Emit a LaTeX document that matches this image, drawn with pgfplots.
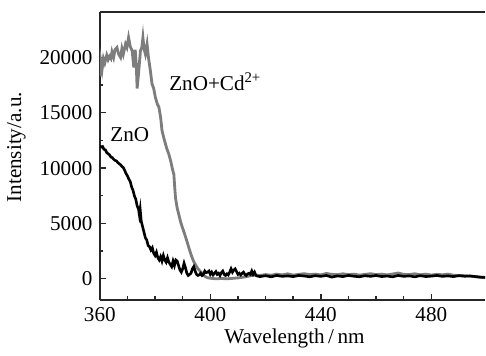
\documentclass[border=0pt]{standalone}
\usepackage{pgfplots}
\pgfplotsset{compat=1.18}
\usepackage{fontspec}
\setmainfont{Liberation Serif}
\definecolor{cdgray}{RGB}{125,125,125}
\begin{document}
\fontsize{10.5}{12.6}\selectfont
\begin{tikzpicture}
\begin{axis}[
  scale only axis,
  width=191.5pt, height=143pt,
  xmin=360, xmax=499.5,
  ymin=-1900, ymax=24100,
  axis y line*=left,
  xtick={360,400,440,480},
  minor x tick num=3,
  ytick={0,5000,10000,15000,20000},
  minor y tick num=1,
  xtick pos=bottom,
  tick align=inside,
  major tick length=3pt,
  minor tick length=1.8pt,
  axis line style={line width=0.8pt, black!85},
  every tick/.style={line width=0.7pt, black!85},
  scaled ticks=false,
  /pgf/number format/assume math mode=true,
  yticklabel={\pgfmathprintnumber[fixed,precision=0,1000 sep={}]{\tick}},
  xticklabel={\pgfmathprintnumber[fixed,precision=0,1000 sep={}]{\tick}},
  xlabel={Wavelength\,/\,nm},
  ylabel={Intensity/a.u.},
  every axis x label/.style={at={(rel axis cs:0.505,0)}, anchor=base, yshift=-21.8pt},
  every axis y label/.style={at={(rel axis cs:0,0.53)}, rotate=90, anchor=center, yshift=41.5pt},
]
% ZnO+Cd2+ (gray)
\addplot[cdgray, line width=1.4pt] coordinates {
(360,18300) (360.3,19700) (360.8,18900) (361.3,19900) (361.8,19500) (362.5,20200)
(363,19800) (363.5,20100) (364,19900) (364.4,20500) (365,20000) (365.5,20700)
(366.2,20900) (366.8,20300) (367.5,20000) (368,20800) (368.5,20300) (369.3,21200)
(369.8,20900) (370.4,21800) (371,21000) (371.7,20600) (372.3,19100) (372.8,20700)
(373.2,19300) (373.5,17200) (374,18500) (374.7,20600) (375.2,20900) (375.6,21800)
(376,20800) (376.5,20300) (377.1,21200) (377.6,20000) (378.3,18800) (378.9,17600)
(379.5,17200) (380.1,16400) (380.8,15800) (381.4,15500) (382,14600) (382.5,13400)
(383.3,12600) (384.2,11800) (385,11240) (385.7,10600) (386.3,9900) (386.8,9430)
(387.1,8300) (387.4,7300) (388,6390) (388.6,5800) (389.2,5180) (389.8,4700)
(390.4,4270) (391.4,3500) (392.3,2750) (393,2200) (393.5,1850) (394.1,1500)
(394.7,1240) (395.5,900) (396.5,640) (397.5,300) (398.9,100) (400,50)
(402,0) (404,30) (406,0) (408,40) (410,80) (412,150) (414,250) (416,350)
(418,300) (420,380) (422,320) (424,420) (426,350) (428,450) (430,330) (432,400)
(434,460) (436,380) (438,420) (440,350) (442,480) (444,400) (446,370) (448,450)
(450,380) (452,420) (454,330) (456,400) (458,460) (460,380) (462,420) (464,350)
(466,430) (468,520) (470,400) (472,380) (474,450) (476,360) (478,420) (480,340)
(482,400) (484,360) (486,420) (488,320) (490,300) (492,280) (494,250) (496,180)
(498,120) (500,100)
};
% ZnO (black)
\addplot[black, line width=1.3pt] coordinates {
(360,12000) (360.5,11900) (361,11950) (361.5,11700) (362,11650) (362.5,11400)
(363,11300) (363.5,11200) (364,11000) (364.5,10950) (365,10800) (365.5,10700)
(366,10650) (366.5,10500) (367,10400) (367.5,10300) (368,10150) (368.5,10050)
(369,9800) (369.5,9500) (370,9300) (370.5,9000) (371,8800) (371.5,8300)
(372,8000) (372.5,7500) (373,7200) (373.5,6600) (374,6300) (374.3,5800)
(374.6,6300) (375,5200) (375.5,4700) (376,4200) (376.5,3700) (377,3500)
(377.5,3000) (378,2900) (378.5,2600) (379,2800) (379.5,2300) (380,2100)
(380.5,2400) (381,1900) (381.5,1700) (382,2000) (382.5,1600) (383,2100)
(383.5,1700) (384,1500) (384.5,1900) (385,1500) (385.5,1300) (386,1100)
(386.5,1600) (387,1200) (387.5,1700) (388,1600) (388.5,1200) (389,800)
(389.5,600) (390,900) (390.5,1400) (391,1000) (391.5,500) (392,300)
(392.5,400) (393,500) (393.5,900) (394,1100) (394.5,700) (395,400)
(395.5,300) (396,350) (396.5,500) (397,300) (397.5,400) (398,700)
(398.5,550) (399,600) (399.5,700) (400,400) (400.5,600) (401,350)
(401.5,500) (402,650) (402.5,400) (403,500) (403.5,300) (404,550)
(404.5,700) (405,400) (405.5,300) (406,450) (406.5,350) (407,600)
(407.5,900) (408,600) (408.5,800) (409,900) (409.5,650) (410,400)
(410.5,500) (411,350) (411.5,500) (412,600) (412.5,400) (413,300)
(413.5,450) (414,500) (414.5,400) (415,700) (415.5,400) (416,600)
(416.5,300) (417,250) (418,200) (420,280) (422,180) (424,300) (426,220)
(428,260) (430,200) (432,300) (434,250) (436,180) (438,280) (440,220)
(442,300) (444,150) (446,260) (448,200) (450,300) (452,230) (454,180)
(456,280) (458,220) (460,300) (462,200) (464,250) (466,180) (468,300)
(470,220) (472,260) (474,180) (476,280) (478,200) (480,240) (482,300)
(484,220) (486,260) (488,200) (490,280) (492,230) (494,250) (496,200)
(498,150) (500,120)
};
\node[anchor=base west, inner sep=0pt] at (axis cs:385,17000) {ZnO+Cd\textsuperscript{2+}};
\node[anchor=base west, inner sep=0pt] at (axis cs:363.7,12450) {ZnO};
\end{axis}
\path (current axis.north) ++(0,6pt);
\end{tikzpicture}
\end{document}
